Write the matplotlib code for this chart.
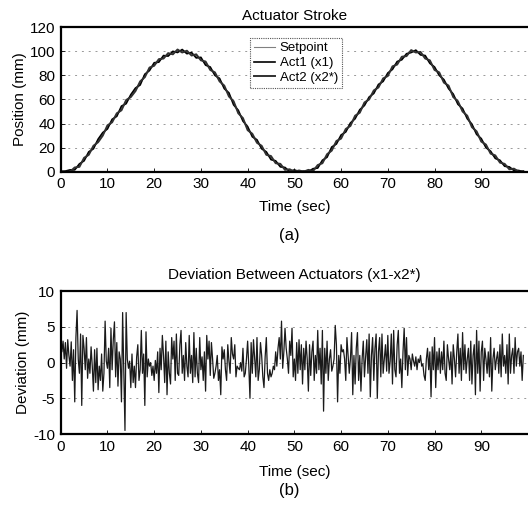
import matplotlib
matplotlib.use("Agg")
import matplotlib.pyplot as plt
import numpy as np

plt.rcParams['font.family'] = ['Liberation Sans', 'DejaVu Sans']
plt.rcParams['axes.unicode_minus'] = False

# position data, 1 s samples (mm)
setpoint = [0, 0, 0.5, 2, 5, 10, 15, 20, 26, 31,
            37, 42, 47, 53, 58, 63, 68, 73, 80, 85,
            89, 92, 95, 97, 99, 100, 100, 99, 98, 96,
            94, 90, 86, 81, 76, 70, 64, 57, 50, 43,
            36, 30, 25, 20, 15.5, 11.5, 8, 5, 2.5, 1,
            0.5, 0, 0, 0.5, 1.5, 4, 8, 13, 19, 24,
            29, 34, 39, 45, 50, 56, 61, 66, 71, 76,
            81, 86, 90, 94, 97, 99.5, 100, 98, 95, 91,
            86, 81, 75, 70, 63, 57, 51, 45, 38, 32,
            26, 21, 16, 12, 8.5, 5.5, 3, 1.5, 0.5, 0]
act1 = [0, 0.5, 1.5, 1.5, 6.5, 9, 16.5, 19, 27, 32.5,
        35.5, 43.5, 46, 54.5, 56.5, 64, 69.5, 72, 81, 84,
        90.5, 91, 96.5, 96, 100, 99, 101.5, 98, 99, 94.5,
        95, 88.5, 87, 80, 77.5, 69, 65.5, 55.5, 51, 42,
        37.5, 29, 26.5, 19, 16.5, 10, 9, 4, 3.5, 0,
        1.5, 0, 0.5, 0, 2.5, 3, 9.5, 12, 20.5, 23,
        30.5, 33, 40.5, 44, 51.5, 55, 62, 65, 72.5, 75,
        82, 85, 91.5, 93, 98, 99, 101, 97, 96.5, 90,
        87, 80, 76.5, 69, 64.5, 56, 52.5, 44, 39.5, 31,
        27.5, 20, 17, 11, 9.5, 4.5, 4, 1, 1, 0]
act2 = [0.5, 0, 0, 3.5, 4, 11.5, 14, 21.5, 24.5, 30,
        38.5, 41, 48.5, 51, 59.5, 62, 67, 75, 78.5, 86.5,
        88, 93.5, 94, 98.5, 97.5, 101.5, 99, 100.5, 96.5, 97.5,
        92.5, 91.5, 84.5, 82.5, 75, 71.5, 62.5, 58.5, 48.5, 44.5,
        34.5, 31.5, 24, 21.5, 14, 13, 7, 6.5, 1.5, 2,
        0, 1, 0, 1.5, 0.5, 5.5, 7, 14.5, 17.5, 25.5,
        27.5, 35.5, 38, 46.5, 49, 57.5, 60, 67.5, 70, 77.5,
        79.5, 87.5, 89, 95.5, 96, 101, 99, 99.5, 94, 92.5,
        84.5, 82.5, 74, 71.5, 62, 58.5, 50, 46.5, 37, 33.5,
        25, 22.5, 15, 13.5, 7.5, 6.5, 2, 2.5, 0, 0.5]

# deviation x1 - x2*, 0.25 s samples (mm)
deviation = [
    4.0, 1.5, 3.0, 0.5, 2.8, -0.8, 3.2, 1.0,
    -0.5, 2.9, -2.5, 1.8, -5.5, 3.5, 7.3, 0.5,
    -1.5, 4.0, -6.0, 3.8, 2.0, -1.0, 3.5, -2.2,
    0.5, -1.5, 2.2, -0.5, -4.0, 1.8, -2.8, 2.0,
    -3.8, -0.5, -2.5, 1.2, -4.0, -1.5, 5.8, 0.2,
    -0.8, 2.0, -3.5, 4.8, -1.0, 3.2, 5.7, -2.0,
    2.8, -3.3, 1.5, 0.5, -5.5, 7.0, -1.0, -9.5,
    7.0, 0.5, -0.8, 0.2, -3.5, 1.2, -2.8, -0.5,
    -3.5, 0.8, 2.5, -2.5, -1.0, 4.5, -1.5, 1.2,
    -6.0, 4.3, -2.0, 0.5, -0.5, 0.0, -1.8, -0.5,
    -2.5, 0.3, -1.5, 1.5, -4.2, 2.0, -1.0, 3.8,
    1.0, -2.8, 3.0, -4.5, 1.5, -1.5, -3.0, 3.5,
    0.5, 3.0, -2.5, 4.0, -1.5, -1.8, 2.5, 4.5,
    -1.5, 1.0, -2.5, 2.8, -0.5, -2.0, 3.8, -1.5,
    1.0, -2.8, 4.2, -2.0, 2.0, -1.5, -2.8, 3.5,
    -1.0, 0.8, -2.5, 1.5, -4.0, 3.8, 0.5, 3.0,
    -1.8, 2.8, 0.5, -2.2, -1.5, -0.5, 1.0, -2.5,
    -1.0, -4.5, 2.2, 0.5, 1.8, -1.0, -2.5, 2.5,
    0.2, -1.5, 3.5, 1.2, 0.5, 2.5, -2.0, -0.5,
    -0.8, -1.0, 0.0, -1.2, 2.0, -2.0, -1.5, 0.5,
    3.0, -0.5, -5.0, 2.8, -1.5, 3.2, 0.5, -2.0,
    3.5, -2.5, -1.0, 2.8, 1.0, -2.0, -3.5, 0.8,
    3.5, -1.5, -2.5, -1.0, -2.0, -1.5, -0.5, -1.0,
    1.5, -0.5, 2.0, 3.5, 0.5, 5.8, -0.8, 1.5,
    4.8, 2.0, 0.5, -1.5, 3.0, 1.0, 4.8, -2.0,
    0.5, -2.5, 2.8, -1.5, 3.2, -1.0, 2.5, -3.0,
    2.0, -1.0, 3.0, 0.5, -4.0, 2.5, -1.8, 1.5,
    3.0, -2.5, 1.0, -1.5, 4.5, -1.0, 2.0, -3.0,
    4.5, -6.8, 2.0, -1.5, 3.0, -2.5, 0.5, 1.8,
    -1.2, -0.5, 0.5, 5.2, 2.5, -5.5, 1.0, -1.5,
    2.5, 1.5, 1.8, 0.5, -2.5, 3.5, 1.0, -1.5,
    0.5, 4.2, -4.5, 1.0, -3.0, 2.0, 4.2, -2.5,
    1.0, -4.0, 0.5, 3.0, -2.0, 0.8, 3.2, -1.5,
    4.0, -4.8, 1.0, 3.5, -2.5, 2.0, 4.0, -5.0,
    1.5, 3.5, -2.0, 4.0, -1.5, 0.5, 2.5, -1.2,
    3.8, -1.5, 0.2, 4.0, -3.0, 4.5, -1.0, -2.0,
    2.5, 4.5, -1.5, 0.5, -3.5, 1.5, 4.8, -1.0,
    3.5, -1.8, 1.0, 0.5, -1.0, 1.2, 0.2, -0.5,
    0.8, -1.0, 0.5, 0.0, 1.0, -0.5, -0.2, -1.8,
    -2.5, 0.5, 2.0, -1.0, 1.5, -4.8, 2.2, -1.0,
    3.5, -3.5, 1.5, -1.0, 2.0, -1.5, 1.5, -1.0,
    3.0, -1.5, -2.5, 2.5, 0.5, -1.0, 1.5, -3.0,
    2.5, 0.5, -2.0, 1.5, 4.0, -1.5, 2.0, -2.5,
    4.2, -1.0, 2.5, -1.5, 0.5, 2.0, -2.5, 3.0,
    -3.0, 1.0, 2.5, -4.5, 4.5, -1.5, 3.0, -4.0,
    1.5, 3.0, -2.5, 2.0, 0.5, -1.5, 1.5, -2.0,
    3.5, -4.0, 0.5, 2.0, -1.0, 0.5, 1.5, -1.5,
    2.5, -2.0, 4.0, -0.5, 1.0, -1.5, 2.5, -3.0,
    4.0, -1.5, 1.0, 2.0, -1.5, 3.5, -0.5, 1.5,
    2.0, -0.5, 1.5, -2.5, 1.0]

t_pos = np.arange(len(setpoint)) * 1.0
t_dev = np.arange(len(deviation)) * 0.25

fig = plt.figure(figsize=(5.28, 5.14), dpi=100)

def style(ax):
    ax.spines['right'].set_visible(False)
    for s in ['left', 'bottom', 'top']:
        ax.spines[s].set_linewidth(1.6)
    ax.tick_params(direction='in', length=3, width=0.6, labelsize=11, pad=4)
    ax.set_xlim(0, 100)
    ax.set_xticks(range(0, 100, 10))
    ax.yaxis.grid(True, linestyle=(0, (2, 5)), color='#999999', linewidth=0.7)
    ax.set_axisbelow(True)

ax1 = fig.add_axes([0.115, 0.666, 0.885, 0.281])
ax1.plot(t_pos, setpoint, color='#808080', lw=0.8, label='Setpoint')
ax1.plot(t_pos, act1, color='black', lw=1.2, label='Act1 (x1)')
ax1.plot(t_pos, act2, color='#303030', lw=1.4, label='Act2 (x2*)')
style(ax1)
ax1.set_ylim(0, 120)
ax1.set_yticks(range(0, 121, 20))
ax1.set_title('Actuator Stroke', fontsize=11, pad=5)
ax1.set_ylabel('Position (mm)', fontsize=11, labelpad=2)
ax1.set_xlabel('Time (sec)', fontsize=11, labelpad=6)
leg = ax1.legend(loc='upper left', bbox_to_anchor=(0.39, 0.97), fontsize=9.5,
                 handlelength=1.6, handletextpad=0.4, borderpad=0.3,
                 labelspacing=0.2, fancybox=False, framealpha=1)
leg.get_frame().set_edgecolor('#555555')
leg.get_frame().set_linestyle((0, (1, 1)))
leg.get_frame().set_linewidth(0.8)
fig.text(0.547, 0.542, '(a)', ha='center', va='center', fontsize=12)

ax2 = fig.add_axes([0.115, 0.1556, 0.885, 0.278])
ax2.plot(t_dev, deviation, color='#1a1a1a', lw=0.9)
style(ax2)
ax2.set_ylim(-10, 10)
ax2.set_yticks([-10, -5, 0, 5, 10])
ax2.set_title('Deviation Between Actuators (x1-x2*)', fontsize=11, pad=9)
ax2.set_ylabel('Deviation (mm)', fontsize=11, labelpad=2)
ax2.set_xlabel('Time (sec)', fontsize=11, labelpad=8)
fig.text(0.547, 0.045, '(b)', ha='center', va='center', fontsize=12)

fig.savefig('out.png', dpi=100)
